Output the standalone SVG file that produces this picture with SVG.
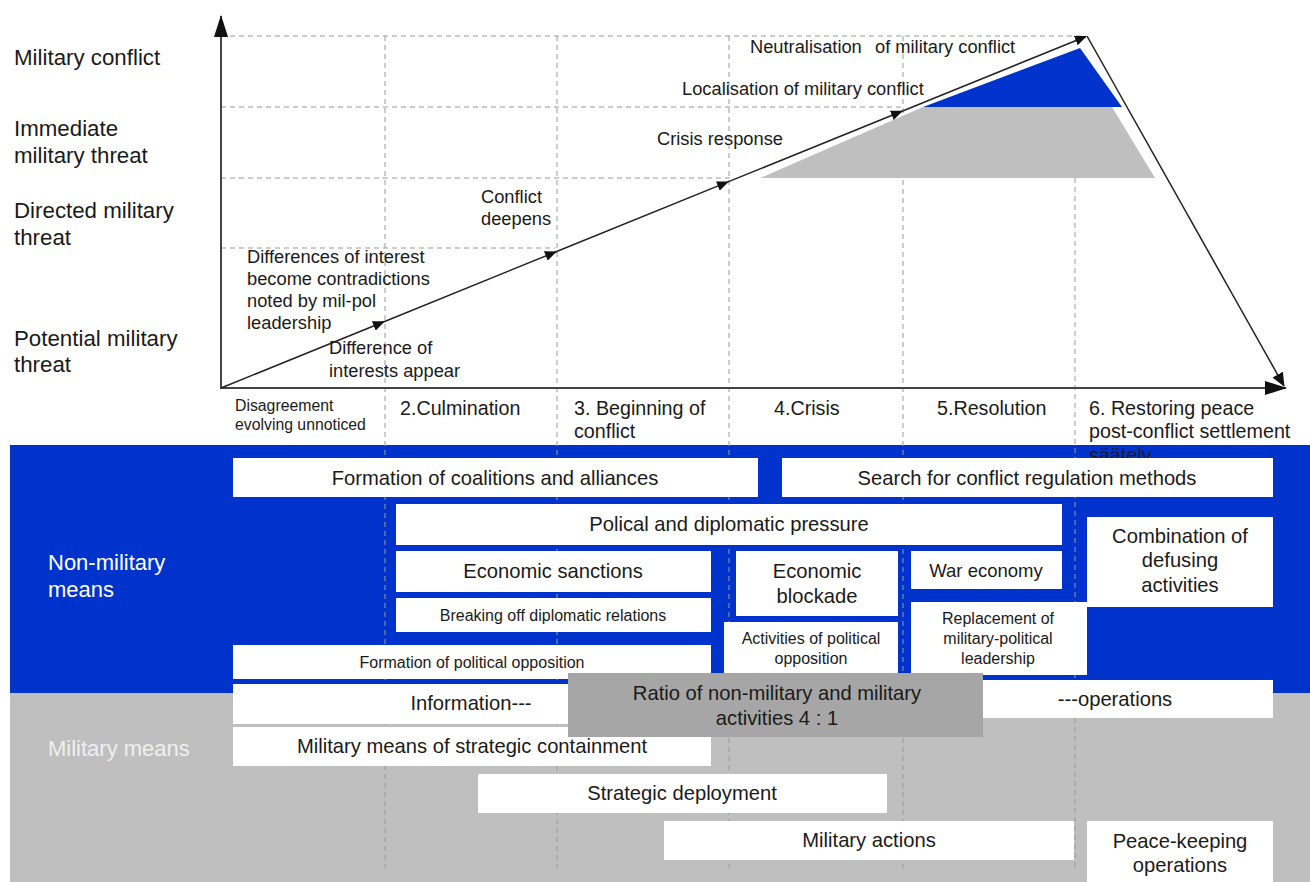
<svg xmlns="http://www.w3.org/2000/svg" width="1310" height="882" viewBox="0 0 1310 882">
<style>
text{font-family:"Liberation Sans",Arial,sans-serif;fill:#1a1a1a}
.lvl{font-size:22.3px}
.cl{font-size:18.3px}
.ph{font-size:19.7px}
.bx{fill:#ffffff}
.bt{font-size:20.2px;text-anchor:middle}
.st{font-size:16px;text-anchor:middle}
.grid{stroke:#9a9a9a;stroke-width:1;stroke-dasharray:5,4;fill:none}
.axis{stroke:#444;stroke-width:2;fill:none}
.trend{stroke:#222;stroke-width:1.5;fill:none}
</style>
<defs>
<marker id="ah" markerUnits="userSpaceOnUse" markerWidth="14" markerHeight="12" refX="13" refY="6" orient="auto">
<path d="M0,0 L14,6 L0,12 Z" fill="#111"/>
</marker>
<marker id="ahs" markerUnits="userSpaceOnUse" markerWidth="12" markerHeight="10" refX="11" refY="5" orient="auto">
<path d="M0,0 L12,5 L0,10 Z" fill="#111"/>
</marker>
<marker id="ahl" markerUnits="userSpaceOnUse" markerWidth="22" markerHeight="14" refX="21" refY="7" orient="auto">
<path d="M0,0 L22,7 L0,14 Z" fill="#111"/>
</marker>
</defs>

<!-- bands -->
<g id="bands">
<rect x="10" y="445" width="1300" height="248" fill="#0033cc"/>
<rect x="10" y="693" width="1300" height="189" fill="#bfbfbf"/>
</g>

<!-- grid -->
<g id="grid">
<line class="grid" x1="221" y1="36" x2="1085" y2="36"/>
<line class="grid" x1="221" y1="107" x2="905" y2="107"/>
<line class="grid" x1="221" y1="178" x2="730" y2="178"/>
<line class="grid" x1="221" y1="248" x2="555" y2="248"/>
<line class="grid" x1="385" y1="36" x2="385" y2="868"/>
<line class="grid" x1="557" y1="36" x2="557" y2="868"/>
<line class="grid" x1="729" y1="36" x2="729" y2="868"/>
<line class="grid" x1="903" y1="36" x2="903" y2="868"/>
<line class="grid" x1="1075" y1="178" x2="1075" y2="868"/>
</g>

<!-- shapes -->
<g id="shapes">
<polygon points="760,178 923,107 1112,107 1155,178" fill="#bfbfbf"/>
<polygon points="923,107 1080,48 1122,107" fill="#0033cc"/>
</g>

<!-- connectors -->
<g id="connectors">
<line class="axis" x1="221" y1="389" x2="221" y2="16" marker-end="url(#ahl)"/>
<line class="axis" x1="220" y1="388" x2="1286" y2="388" marker-end="url(#ahl)"/>
<polyline class="trend" points="221,388 384,321.7 556,251.8 728,181.9 902,111.2 1086,36.5" marker-mid="url(#ahs)" marker-end="url(#ahs)"/>
<line class="trend" x1="1087" y1="36" x2="1284" y2="386" marker-end="url(#ah)"/>
</g>

<!-- level labels -->
<g id="levels">
<text class="lvl" x="14" y="65">Military conflict</text>
<text class="lvl" x="14" y="136">Immediate</text>
<text class="lvl" x="14" y="163">military threat</text>
<text class="lvl" x="14" y="218">Directed military</text>
<text class="lvl" x="14" y="245">threat</text>
<text class="lvl" x="14" y="346">Potential military</text>
<text class="lvl" x="14" y="372">threat</text>
</g>

<!-- chart labels -->
<g id="chart-labels">
<text class="cl" x="750" y="53">Neutralisation</text>
<text class="cl" x="875" y="53">of military conflict</text>
<text class="cl" x="682" y="95">Localisation of military conflict</text>
<text class="cl" x="657" y="145">Crisis response</text>
<text class="cl" x="481" y="203">Conflict</text>
<text class="cl" x="481" y="225">deepens</text>
<text class="cl" x="247" y="263">Differences of interest</text>
<text class="cl" x="247" y="285">become contradictions</text>
<text class="cl" x="247" y="307">noted by mil-pol</text>
<text class="cl" x="247" y="329">leadership</text>
<text class="cl" x="329" y="354">Difference of</text>
<text class="cl" x="329" y="377">interests appear</text>
</g>

<!-- phases -->
<g id="phases">
<text x="235" y="411" style="font-size:15.8px">Disagreement</text>
<text x="235" y="430" style="font-size:15.8px">evolving  unnoticed</text>
<text class="ph" x="400" y="415">2.Culmination</text>
<text class="ph" x="574" y="415">3. Beginning of</text>
<text class="ph" x="574" y="438">conflict</text>
<text class="ph" x="774" y="415">4.Crisis</text>
<text class="ph" x="937" y="415">5.Resolution</text>
<text class="ph" x="1089" y="415">6. Restoring peace</text>
<text class="ph" x="1089" y="438">post-conflict settlement</text>
<text class="ph" x="1089" y="462">säätely</text>
</g>

<!-- band labels -->
<g id="band-labels">
<text x="48" y="570" style="font-size:22px;fill:#ffffff">Non-military</text>
<text x="48" y="597" style="font-size:22px;fill:#ffffff">means</text>
<text x="48" y="756" style="font-size:22px;fill:#efefef">Military means</text>
</g>

<g id="n1"><rect class="bx" x="233" y="458" width="525" height="39"/><text class="bt" x="495" y="485">Formation of coalitions and alliances</text></g>
<g id="n2"><rect class="bx" x="782" y="458" width="491" height="39"/><text class="bt" x="1027" y="485">Search for conflict regulation methods</text></g>
<g id="n3"><rect class="bx" x="396" y="504" width="666" height="41"/><text class="bt" x="729" y="531">Polical and diplomatic pressure</text></g>
<g id="n4"><rect class="bx" x="1087" y="517" width="186" height="90"/><text class="bt" x="1180" y="543">Combination of</text><text class="bt" x="1180" y="567">defusing</text><text class="bt" x="1180" y="592">activities</text></g>
<g id="n5"><rect class="bx" x="396" y="551" width="315" height="41"/><text class="bt" x="553" y="578">Economic sanctions</text></g>
<g id="n6"><rect class="bx" x="736" y="551" width="162" height="65"/><text class="bt" x="817" y="578">Economic</text><text class="bt" x="817" y="603">blockade</text></g>
<g id="n7"><rect class="bx" x="911" y="551" width="151" height="38"/><text class="bt" x="986" y="577" style="font-size:18.5px">War economy</text></g>
<g id="n8"><rect class="bx" x="396" y="598" width="315" height="34"/><text class="st" x="553" y="621">Breaking off diplomatic relations</text></g>
<g id="n9"><rect class="bx" x="724" y="622" width="174" height="53"/><text class="st" x="811" y="644">Activities of political</text><text class="st" x="811" y="664">opposition</text></g>
<g id="n10"><rect class="bx" x="911" y="602" width="176" height="73"/><text class="st" x="998" y="624">Replacement of</text><text class="st" x="998" y="644">military-political</text><text class="st" x="998" y="664">leadership</text></g>
<g id="n11"><rect class="bx" x="233" y="645" width="478" height="34"/><text class="st" x="472" y="668">Formation of political opposition</text></g>
<g id="n12"><rect class="bx" x="233" y="684" width="380" height="40"/><text class="bt" x="471" y="710">Information---</text></g>
<g id="n13"><rect class="bx" x="940" y="680" width="333" height="38"/><text class="bt" x="1115" y="706">---operations</text></g>
<g id="n14"><rect class="bx" x="233" y="727" width="478" height="39"/><text class="bt" x="472" y="753">Military means of strategic containment</text></g>
<g id="n15"><rect x="568" y="673" width="415" height="64" fill="#a6a6a6"/><text class="bt" x="777" y="700">Ratio of non-military and military</text><text class="bt" x="777" y="725">activities 4 : 1</text></g>
<g id="n16"><rect class="bx" x="478" y="774" width="409" height="39"/><text class="bt" x="682" y="800">Strategic deployment</text></g>
<g id="n17"><rect class="bx" x="664" y="821" width="410" height="39"/><text class="bt" x="869" y="847">Military actions</text></g>
<g id="n18"><rect class="bx" x="1087" y="821" width="186" height="61"/><text class="bt" x="1180" y="848">Peace-keeping</text><text class="bt" x="1180" y="872">operations</text></g>
</svg>
